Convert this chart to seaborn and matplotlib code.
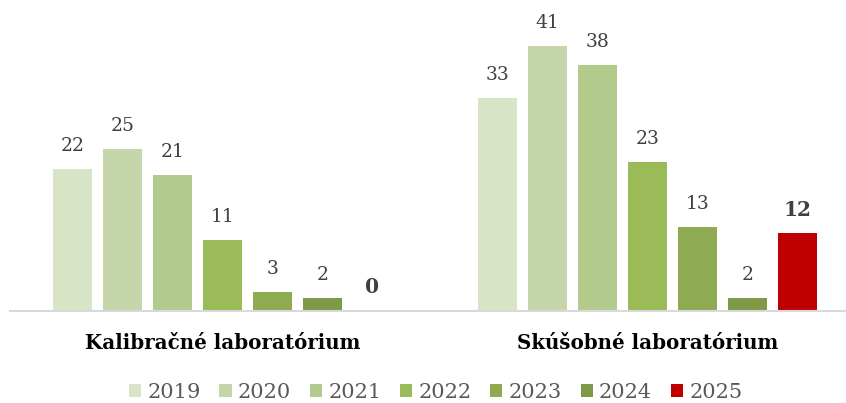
import matplotlib
matplotlib.use("Agg")
import matplotlib.pyplot as plt
import pandas as pd
import seaborn as sns

# values
groups = ["Kalibračné laboratórium", "Skúšobné laboratórium"]
years = ["2019", "2020", "2021", "2022", "2023", "2024", "2025"]
kalibracne = [22, 25, 21, 11, 3, 2, 0]
skusobne = [33, 41, 38, 23, 13, 2, 12]
colors = ["#D7E4C5", "#C5D7AA", "#B2CB8C", "#9BBB59", "#8EAB52", "#7E9A47", "#C00000"]

rows = []
for grp, vals in zip(groups, [kalibracne, skusobne]):
    for yr, v in zip(years, vals):
        rows.append({"group": grp, "year": yr, "value": v})
df = pd.DataFrame(rows)

sns.set_style("white")
plt.rcParams["font.family"] = ["DejaVu Serif"]

fig = plt.figure(figsize=(8.46, 4.03), dpi=100)
ax = fig.add_axes([10 / 846, 1 - 311 / 403, 1 - 10 / 846, 311 / 403])

sns.barplot(data=df, x="group", y="value", hue="year", order=groups,
            hue_order=years, palette=dict(zip(years, colors)),
            width=0.8235, gap=0.22, saturation=1, linewidth=0,
            ax=ax, legend=True)

ax.set_xlim(-0.5, 1.467)
ax.set_ylim(0, 48.1)

for i, cont in enumerate(ax.containers):
    if years[i] == "2025":
        ax.bar_label(cont, fmt="%d", padding=10, fontsize=14.5,
                     fontweight="bold", color="#404040")
    else:
        ax.bar_label(cont, fmt="%d", padding=10, fontsize=13.5, color="#404040")

for s in ["top", "right", "left"]:
    ax.spines[s].set_visible(False)
ax.spines["bottom"].set_color("#D9D9D9")
ax.spines["bottom"].set_linewidth(1.5)
ax.set_yticks([])
ax.set_xlabel("")
ax.set_ylabel("")
ax.tick_params(axis="x", length=0, pad=16)
for lbl in ax.get_xticklabels():
    lbl.set_fontweight("bold")
    lbl.set_fontsize(14.3)
    lbl.set_color("black")

handles, labels = ax.get_legend_handles_labels()
ax.get_legend().remove()
fig.legend(handles, labels, loc="center", bbox_to_anchor=(0.515, 0.027),
           ncol=7, frameon=False, fontsize=15, handlelength=0.58,
           handleheight=0.58, handletextpad=0.3, columnspacing=0.9,
           labelcolor="#595959")

fig.savefig("out.png", dpi=100)
